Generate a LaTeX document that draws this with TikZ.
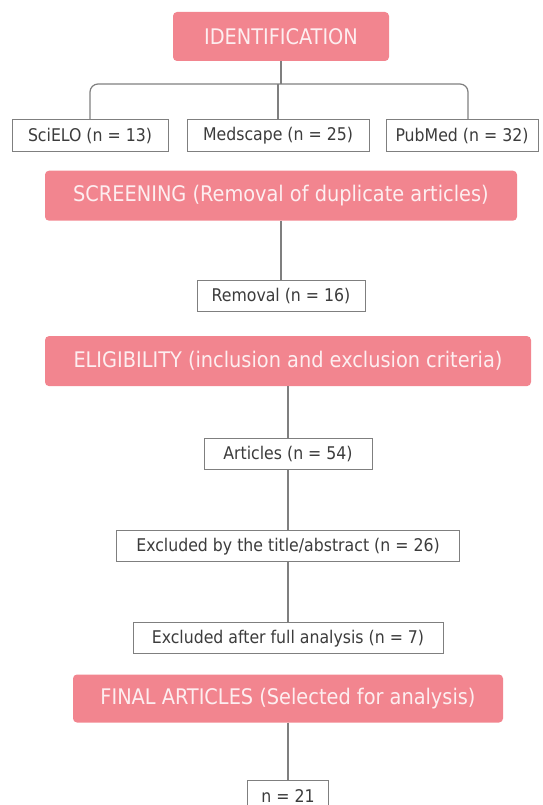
\documentclass[tikz,border=0pt]{standalone}
\usepackage{fontspec}
\setmainfont{DejaVu Sans Condensed}
\usepackage{xcolor}
\usepackage{tikz}
\usetikzlibrary{positioning}

\definecolor{phasepink}{HTML}{F2858F}
\definecolor{phasetext}{HTML}{FDEEF0}
\definecolor{linegray}{HTML}{7F7F7F}
\definecolor{boxtext}{HTML}{3C3C3C}

\begin{document}
\begin{tikzpicture}[
    x=1pt, y=-1pt,
    phase/.style={rectangle, fill=phasepink, rounded corners=4pt, minimum height=50pt, inner sep=0pt, text=phasetext, font=\fontsize{21.5}{24}\selectfont},
    countbox/.style={rectangle, draw=linegray, line width=1pt, fill=white, minimum height=31pt, inner sep=0pt, text=boxtext, font=\fontsize{17.5}{20}\selectfont},
    link/.style={draw=linegray, line width=1.2pt}
]
\useasboundingbox (0,0) rectangle (542,805);

% Identification
\node[phase, minimum width=216pt, minimum height=49pt] (ident) at (281,36.5) {IDENTIFICATION};
\node[countbox, minimum width=156pt, minimum height=32pt] (scielo) at (90,136) {SciELO (n = 13)};
\node[countbox, minimum width=182pt, minimum height=32pt] (medscape) at (278,136) {Medscape (n = 25)};
\node[countbox, minimum width=152pt, minimum height=32pt] (pubmed) at (462,136) {PubMed (n = 32)};
\coordinate (bar) at (0,84);
\coordinate (srcbase) at (ident |- scielo.south);

% Screening
\node[phase, minimum width=472pt, below=18pt of srcbase] (screening) {SCREENING (Removal of duplicate articles)};
\node[countbox, minimum width=168pt, below=59pt of screening] (removal) {Removal (n = 16)};

% Eligibility
\node[phase, minimum width=486pt, below=24pt of removal, xshift=7pt] (eligibility) {ELIGIBILITY (inclusion and exclusion criteria)};
\node[countbox, minimum width=168pt, below=52pt of eligibility] (articles) {Articles (n = 54)};
\node[countbox, minimum width=343pt, below=60pt of articles] (extitle) {Excluded by the title/abstract (n = 26)};
\node[countbox, minimum width=310pt, below=60pt of extitle] (exfull) {Excluded after full analysis (n = 7)};

% Final
\node[phase, minimum width=430pt, minimum height=48pt, below=20pt of exfull] (final) {FINAL ARTICLES (Selected for analysis)};
\node[countbox, minimum width=81pt, below=57pt of final] (selected) {n = 21};

% Links
\draw[link] (ident.south) -- (ident.south |- bar);
\draw[link, rounded corners=8pt] (scielo.north) |- ([xshift=6pt]pubmed.north |- bar) -- ([xshift=6pt]pubmed.north);
\draw[link] (medscape.north) -- (medscape.north |- bar);
\draw[link] (screening) -- (removal);
\draw[link] (eligibility) -- (articles);
\draw[link] (articles) -- (extitle);
\draw[link] (extitle) -- (exfull);
\draw[link] (final) -- (selected);

\end{tikzpicture}
\end{document}
